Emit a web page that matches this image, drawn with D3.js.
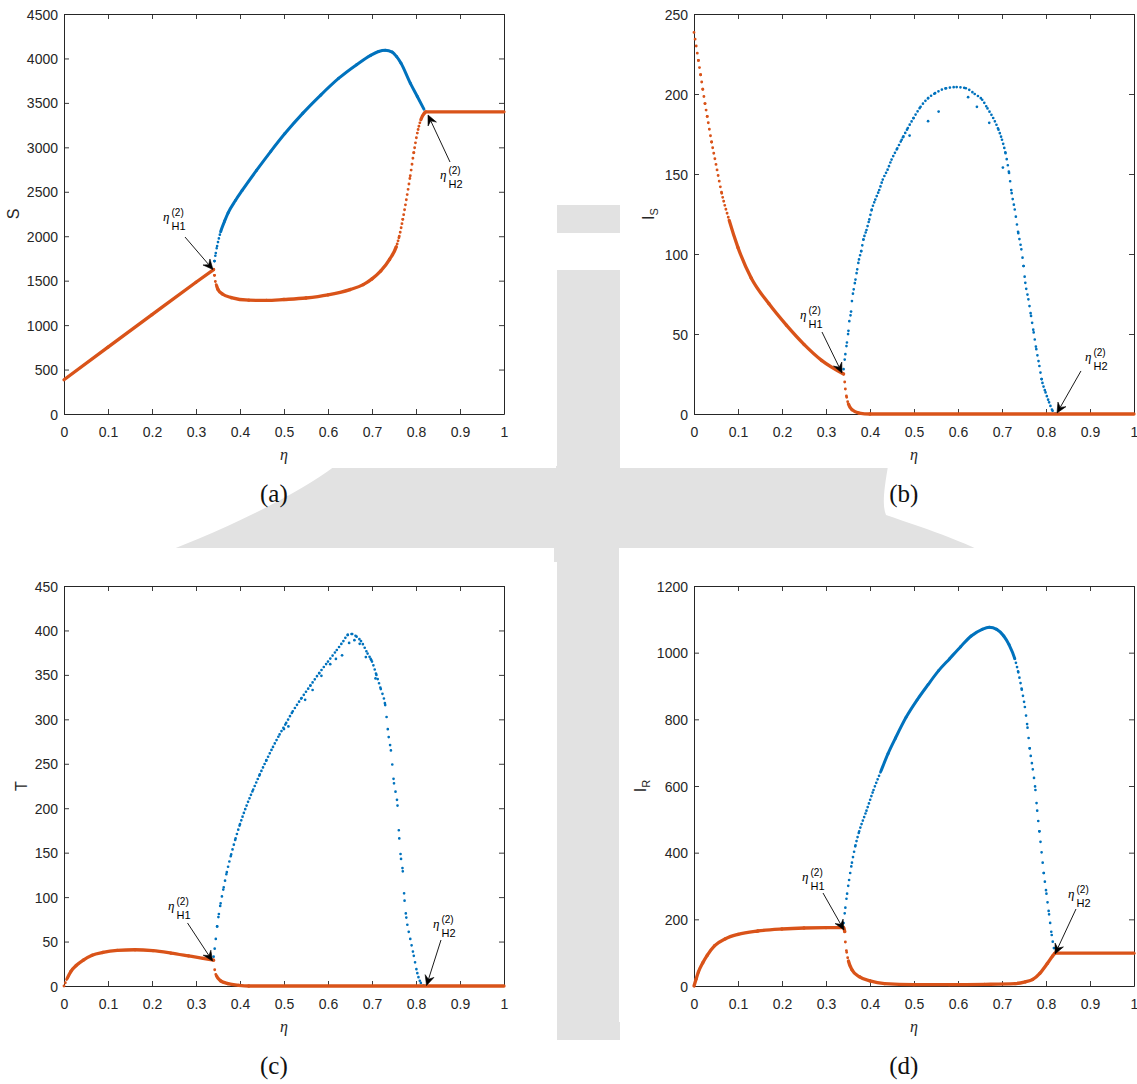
<!DOCTYPE html>
<html>
<head>
<meta charset="utf-8">
<script src="https://cdn.jsdelivr.net/npm/d3@7/dist/d3.min.js"></script>
<style>
  html,body{margin:0;padding:0;background:#fff;}
  svg{display:block;}
</style>
</head>
<body>
<svg id="fig" width="1137" height="1084"></svg>
<script>
// ---------------- data ----------------
const etaTicks = [0,0.1,0.2,0.3,0.4,0.5,0.6,0.7,0.8,0.9,1];
const etaTickLabels = ["0","0.1","0.2","0.3","0.4","0.5","0.6","0.7","0.8","0.9","1"];
const sTicks  = [0,500,1000,1500,2000,2500,3000,3500,4000,4500];
const isTicks = [0,50,100,150,200,250];
const tTicks  = [0,50,100,150,200,250,300,350,400,450];
const irTicks = [0,200,400,600,800,1000,1200];

// (a) S
const S_max = [[0.340,1625],[0.342,1720],[0.345,1810],[0.348,1890],[0.352,1975],[0.356,2050],[0.365,2170],[0.373,2263],[0.39,2405],[0.405,2515],[0.4375,2740],[0.47,2955],[0.502,3155],[0.543,3385],[0.584,3591],[0.624,3775],[0.665,3930],[0.697,4035],[0.715,4078],[0.73,4092],[0.746,4072],[0.756,4020],[0.766,3946],[0.787,3722],[0.803,3572],[0.818,3430]];
const S_eq1 = [[0,385],[0.1,752],[0.2,1118],[0.3,1482],[0.34,1625]];
const S_min = [[0.340,1625],[0.342,1560],[0.344,1490],[0.347,1440],[0.35,1400],[0.36,1350],[0.38,1310],[0.42,1280],[0.46,1278],[0.5,1288],[0.55,1305],[0.6,1340],[0.65,1400],[0.68,1455],[0.7,1520],[0.72,1610],[0.74,1740],[0.755,1880],[0.762,2000],[0.77,2190],[0.778,2410],[0.787,2680],[0.795,2940],[0.803,3160],[0.811,3310],[0.819,3385],[0.822,3398]];
const S_eq2 = [[0.822,3400],[1,3400]];

// (b) I_S
const Is_eq1 = [[0,238.5],[0.005,230],[0.01,221],[0.015,212],[0.02,203],[0.025,194],[0.03,186],[0.04,170],[0.05,156],[0.063,138],[0.08,121],[0.1,104],[0.13,85],[0.17,69],[0.21,55.5],[0.25,43.5],[0.29,33.5],[0.34,25]];
const Is_min = [[0.34,25],[0.3425,20],[0.344,15.6],[0.347,10.4],[0.351,6.2],[0.359,2.7],[0.375,0.6],[0.4,0],[1,0]];
const Is_max = [[0.34,28],[0.344,37.4],[0.3476,44.7],[0.351,52],[0.353,58],[0.357,64],[0.359,70.6],[0.363,77.9],[0.367,84],[0.371,90.4],[0.375,96.6],[0.38,101.8],[0.385,109],[0.392,115],[0.3985,121.6],[0.404,127.8],[0.412,134],[0.421,140],[0.429,146.5],[0.44,152.7],[0.449,159],[0.462,166],[0.472,171.4],[0.486,178.7],[0.499,185],[0.515,192],[0.532,197.4],[0.548,200.5],[0.573,203.6],[0.597,204.3],[0.618,203.6],[0.638,200],[0.655,196.4],[0.667,191],[0.68,185],[0.692,177.7],[0.7,171.4],[0.708,163],[0.716,150.7],[0.722,138],[0.729,127.8],[0.737,113],[0.744,102.9],[0.749,92.5],[0.753,82],[0.76,71.7],[0.766,61.3],[0.772,51],[0.778,40.5],[0.785,30],[0.79,21.8],[0.799,13.5],[0.807,7.3],[0.815,2],[0.823,0]];
const Is_scatter = [[0.475,173],[0.49,174],[0.532,183],[0.556,189],[0.623,198],[0.643,192],[0.671,182],[0.702,154]];

// (c) T
const T_eq1 = [[0,0],[0.0073,8.6],[0.0154,16.3],[0.0276,23],[0.044,29.2],[0.064,34.6],[0.0885,37.7],[0.121,40],[0.1615,40.8],[0.202,39.7],[0.243,37],[0.283,33.8],[0.316,31.1],[0.34,29]];
const T_min = [[0.34,29],[0.3425,18.3],[0.3466,11.3],[0.356,5.8],[0.3726,2.7],[0.397,0.8],[0.42,0],[1,0]];
const T_max = [[0.34,33],[0.3425,42],[0.345,53],[0.348,67],[0.352,81],[0.356,93],[0.363,111],[0.37,128],[0.38,148],[0.39,166],[0.4,182],[0.415,203],[0.43,221],[0.445,238],[0.46,254],[0.475,269],[0.49,283],[0.505,296],[0.52,309],[0.54,324],[0.56,338],[0.58,352],[0.6,365],[0.62,378],[0.635,388],[0.645,395],[0.655,396],[0.665,393],[0.675,388],[0.69,374],[0.7,365],[0.71,350],[0.72,334],[0.73,316],[0.738,280],[0.743,265],[0.75,228],[0.758,203],[0.762,166],[0.766,143],[0.77,129],[0.774,96],[0.778,77],[0.787,53],[0.795,34],[0.803,14.4],[0.811,3.5],[0.819,0]];
const T_scatter = [[0.5,289],[0.51,292],[0.548,322],[0.565,333],[0.585,349],[0.605,362],[0.618,368],[0.632,372],[0.648,386],[0.66,389],[0.672,385],[0.686,370],[0.697,368],[0.708,346]];

// (d) I_R
const Ir_eq1 = [[0,0],[0.005,22],[0.01,42],[0.02,70],[0.03,92],[0.047,121],[0.0715,142],[0.1,155],[0.145,165],[0.2,171],[0.25,174],[0.3,175],[0.34,175]];
const Ir_min = [[0.34,175],[0.3426,163],[0.344,132],[0.347,101],[0.351,75],[0.359,49],[0.3755,28],[0.4,15.6],[0.433,7.3],[0.5,4],[0.58,4],[0.66,5],[0.73,7.3],[0.753,12.4],[0.77,19.7],[0.786,38],[0.803,67.4],[0.815,90],[0.82,98]];
const Ir_eq2 = [[0.82,98.5],[1,98.5]];
const Ir_max = [[0.34,189],[0.344,235],[0.348,277],[0.3525,318],[0.359,370],[0.367,422],[0.3755,464],[0.392,526],[0.408,588],[0.425,645],[0.441,697],[0.458,744],[0.482,806],[0.507,858],[0.532,904],[0.556,946],[0.581,982],[0.606,1018],[0.63,1050],[0.655,1070],[0.671,1076],[0.688,1070],[0.704,1050],[0.716,1024],[0.729,982],[0.737,941],[0.745,889],[0.752,837],[0.758,775],[0.763,713],[0.77,650],[0.776,588],[0.78,526],[0.785,464],[0.79,401],[0.795,339],[0.801,277],[0.807,215],[0.813,153],[0.819,106]];

// annotations (tip, tail, label anchor, in data units)
const annA = [{sub:"H1",tip:[0.3386,1625],tail:[0.275,1991],lab:[0.225,2171]},{sub:"H2",tip:[0.8273,3364],tail:[0.8773,2835],lab:[0.8545,2644]}];
const annB = [{sub:"H1",tip:[0.3364,25.6],tail:[0.2909,51.25],lab:[0.2409,59.4]},{sub:"H2",tip:[0.825,0.6],tail:[0.8795,26.9],lab:[0.8886,33.1]}];
const annC = [{sub:"H1",tip:[0.3375,28.1],tail:[0.2807,70.9],lab:[0.2364,85.5]},{sub:"H2",tip:[0.8239,0.5],tail:[0.8568,51.75],lab:[0.8386,65.25]}];
const annD = [{sub:"H1",tip:[0.3409,168],tail:[0.2932,279],lab:[0.2455,315]},{sub:"H2",tip:[0.8205,96],tail:[0.8682,231],lab:[0.85,264]}];

// ---------------- layout / style ----------------
const BLUE = "#0072BD", ORANGE = "#D95319", AX = "#262626";
const PW = 440, PH = 400;
const panels = [
  {ox:64,  oy:14,  yMax:4500, yTicks:sTicks,  ylab:"S", ysub:null, tag:"(a)", step:0.002,  solidB:3, solidO:3,
   blue:[S_max], orange:[S_eq1,S_min,S_eq2], scatter:[], blueDotted:false, ann:annA,
   bg:[0,0,556,468]},
  {ox:694, oy:14,  yMax:250,  yTicks:isTicks, ylab:"I", ysub:"S", tag:"(b)", step:0.0025, solidB:3.6, solidO:3.6,
   blue:[Is_max], orange:[Is_eq1,Is_min], scatter:Is_scatter, blueDotted:true, ann:annB,
   bg:[620,0,517,468]},
  {ox:64,  oy:586, yMax:450,  yTicks:tTicks,  ylab:"T", ysub:null, tag:"(c)", step:0.003,  solidB:3, solidO:3,
   blue:[T_max], orange:[T_eq1,T_min], scatter:T_scatter, blueDotted:true, ann:annC,
   bg:[0,548,554,474]},
  {ox:694, oy:586, yMax:1200, yTicks:irTicks, ylab:"I", ysub:"R", tag:"(d)", step:0.0025, solidB:3, solidO:4.2,
   blue:[Ir_max], orange:[Ir_eq1,Ir_min,Ir_eq2], scatter:[], blueDotted:false, ann:annD,
   bg:[619,548,518,474]}
];

const svg = d3.select("#fig");

// ---- faint background watermark ----
const wm = svg.append("g").attr("fill","#e2e2e2");
wm.append("path").attr("d","M140,562 C210,536 290,500 335,466 L888,466 C884,490 882,505 886,515 C930,530 975,545 1000,562 Z");
wm.append("rect").attr("x",557).attr("y",205).attr("width",63).attr("height",835);
wm.append("rect").attr("x",557).attr("y",233).attr("width",63).attr("height",37).attr("fill","#fff");

// ---- panel backgrounds ----
panels.forEach(p => {
  svg.append("rect").attr("x",p.bg[0]).attr("y",p.bg[1]).attr("width",p.bg[2]).attr("height",p.bg[3]).attr("fill","#fff");
});

// smooth (monotone) curve through the read points, split per interval so each
// interval can be drawn solid or as a row of dots depending on the point density
function drawSeries(g, x, y, pts, color, step, solidBelow, o) {
  const px = pts.map(d => [x(d[0]), y(d[1])]);
  const d = d3.line().curve(d3.curveMonotoneX)(px);
  const segs = [];
  if (d.indexOf("C") >= 0) {
    const parts = d.slice(1).split("C");
    let prev = parts[0];
    parts.slice(1).forEach(part => {
      segs.push("M" + prev + "C" + part);
      const nums = part.split(",");
      prev = nums.slice(-2).join(",");
    });
  } else {
    for (let i = 0; i < px.length - 1; i++) segs.push(d3.line()([px[i], px[i+1]]));
  }
  segs.forEach((sd, i) => {
    const seg = g.append("path").attr("d", sd)
      .attr("fill","none").attr("stroke",color).attr("stroke-linecap","round");
    const L = seg.node().getTotalLength();
    const n = Math.max((pts[i+1][0] - pts[i][0]) / step, 1e-6);
    let s = L / n;
    if (!o.dotted && s < solidBelow) {
      seg.attr("stroke-width", o.lw);
    } else {
      s = Math.max(s, o.minPitch);
      seg.attr("stroke-width", o.dot).attr("stroke-dasharray", "0 " + s.toFixed(2));
    }
  });
}

panels.forEach(p => {
  const x = d3.scaleLinear().domain([0,1]).range([p.ox, p.ox + PW]);
  const y = d3.scaleLinear().domain([0,p.yMax]).range([p.oy + PH, p.oy]);
  const g = svg.append("g");

  // axes (box with inward ticks)
  const fmt = d => etaTickLabels[etaTicks.indexOf(d)];
  const bottom = g.append("g").attr("transform",`translate(0,${p.oy+PH})`)
    .call(d3.axisBottom(x).tickValues(etaTicks).tickFormat(fmt).tickSizeInner(-5).tickSizeOuter(0).tickPadding(13));
  const top = g.append("g").attr("transform",`translate(0,${p.oy})`)
    .call(d3.axisTop(x).tickValues(etaTicks).tickFormat("").tickSizeInner(-5).tickSizeOuter(0));
  const left = g.append("g").attr("transform",`translate(${p.ox},0)`)
    .call(d3.axisLeft(y).tickValues(p.yTicks).tickFormat(d3.format("d")).tickSizeInner(-5).tickSizeOuter(0).tickPadding(6));
  const right = g.append("g").attr("transform",`translate(${p.ox+PW},0)`)
    .call(d3.axisRight(y).tickValues(p.yTicks).tickFormat("").tickSizeInner(-5).tickSizeOuter(0));
  [bottom,top,left,right].forEach(a => {
    a.select(".domain").attr("stroke",AX).attr("stroke-width",1);
    a.selectAll(".tick line").attr("stroke",AX).attr("stroke-width",0.9);
    a.selectAll(".tick text").attr("fill",AX).attr("font-family","'Liberation Sans', Arial, sans-serif").attr("font-size",14);
  });
  left.selectAll(".tick text").attr("dy","0.36em");

  // data
  const plot = g.append("g");
  p.blue.forEach(s => drawSeries(plot, x, y, s, BLUE, p.step, p.solidB, {lw:3.0, dot:2.7, dotted:p.blueDotted, minPitch:3.8}));
  plot.selectAll("circle.sc").data(p.scatter).join("circle").attr("class","sc")
    .attr("cx", d => x(d[0])).attr("cy", d => y(d[1])).attr("r",1.35).attr("fill",BLUE);
  p.orange.forEach(s => drawSeries(plot, x, y, s, ORANGE, p.step, p.solidO, {lw:3.3, dot:2.9, dotted:false, minPitch:3.2}));

  // x label
  g.append("text").attr("x", x(0.5)).attr("y", p.oy + PH + 46).attr("text-anchor","middle")
    .attr("font-family","'Liberation Serif', serif").attr("font-style","italic").attr("font-size",16)
    .attr("fill",AX).text("η");

  // y label (right edge of label a few px left of tick labels)
  let minX = Infinity;
  left.selectAll(".tick text").each(function(){ minX = Math.min(minX, this.getBoundingClientRect().left); });
  const lg = g.append("g");
  const yl = lg.append("text").attr("transform","rotate(-90)").attr("text-anchor","middle")
    .attr("font-family","'Liberation Sans', Arial, sans-serif").attr("font-size",16).attr("fill",AX);
  yl.append("tspan").text(p.ylab);
  if (p.ysub) yl.append("tspan").attr("font-size",11).attr("dy",4).text(p.ysub);
  const bb = yl.node().getBBox();
  lg.attr("transform",`translate(${minX - 5 - (bb.y + bb.height)},${p.oy + PH/2})`);

  // annotations
  p.ann.forEach(a => {
    const tx = x(a.tip[0]), ty = y(a.tip[1]), sx = x(a.tail[0]), sy = y(a.tail[1]);
    const ang = Math.atan2(ty - sy, tx - sx);
    const ca = Math.cos(ang), sa = Math.sin(ang);
    const HL = 10, HW = 4.6, NOTCH = 6.5;
    g.append("path").attr("d", d3.line()([[sx,sy],[tx - NOTCH*ca, ty - NOTCH*sa]]))
      .attr("stroke","#000").attr("stroke-width",0.9).attr("fill","none");
    const pt = (u,v) => [tx + u*ca - v*sa, ty + u*sa + v*ca];
    g.append("path").attr("d", d3.line()([pt(0,0), pt(-HL,HW), pt(-NOTCH,0), pt(-HL,-HW)]) + "Z")
      .attr("fill","#000").attr("stroke","#000").attr("stroke-width",0.6);
    const lx = x(a.lab[0]), ly = y(a.lab[1]);
    g.append("text").attr("x",lx).attr("y",ly).attr("font-family","'Liberation Serif', serif")
      .attr("font-style","italic").attr("font-size",13).attr("fill","#000").text("η");
    g.append("text").attr("x",lx+8.5).attr("y",ly-5).attr("font-family","'Liberation Sans', Arial, sans-serif")
      .attr("font-size",10).attr("fill","#000").text("(2)");
    g.append("text").attr("x",lx+8.5).attr("y",ly+9).attr("font-family","'Liberation Sans', Arial, sans-serif")
      .attr("font-size",11).attr("fill","#000").text(a.sub);
  });

  // sub-figure tag
  svg.append("text").attr("x", x(0.477)).attr("y", p.oy + PH + 88).attr("text-anchor","middle")
    .attr("font-family","'Liberation Serif', serif").attr("font-size",25).attr("fill","#111").text(p.tag);
});
</script>
</body>
</html>
